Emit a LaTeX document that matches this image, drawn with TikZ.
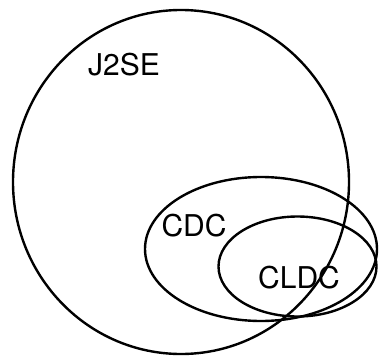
\documentclass[tikz,border=0pt]{standalone}
\usepackage{fontspec}
\setmainfont{TeX Gyre Heros}
\tikzset{
  setline/.style={line width=2.4pt},
  setlabel/.style={inner sep=0pt,font=\fontsize{30}{34}\selectfont}
}
\begin{document}
\begin{tikzpicture}[x=1pt,y=-1pt]
        \useasboundingbox (0,0) rectangle (379,358);
        \draw[setline] (181,182) ellipse [x radius=168pt, y radius=172pt];
        \draw[setline] (261,249) ellipse [x radius=116pt, y radius=72pt];
        \draw[setline] (297.5,266.5) ellipse [x radius=79pt, y radius=50pt];
        \node[setlabel] (j2se) at (124,65) {J2SE};
        \node[setlabel] (cdc) at (194,226) {CDC};
        \node[setlabel] (cldc) at (299,278) {CLDC};
\end{tikzpicture}
\end{document}
